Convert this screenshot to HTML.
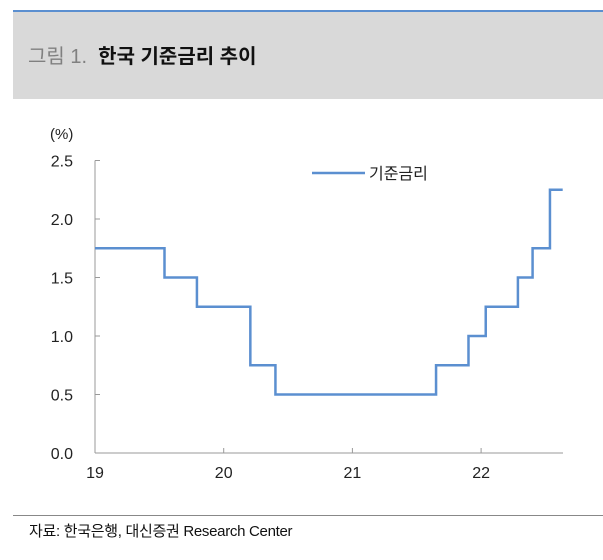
<!DOCTYPE html>
<html><head><meta charset="utf-8"><style>
body{margin:0;background:#fff;font-family:"Liberation Sans","Noto Sans CJK KR",sans-serif;}
#wrap{position:relative;width:603px;height:560px;overflow:hidden;}
</style></head><body>
<div id="wrap">
<div style="position:absolute;left:13px;top:10px;width:590px;height:2px;background:#5b8fd0"></div>
<div style="position:absolute;left:13px;top:12px;width:590px;height:87px;background:#d9d9d9"></div>
<div style="position:absolute;left:28px;top:40px;font-size:20px;white-space:nowrap;font-family:'Liberation Sans','Noto Sans CJK KR',sans-serif"><span style="color:#808080">그림 1.</span>&nbsp; <b style="color:#111">한국 기준금리 추이</b></div>
<svg id="chart" width="603" height="560" style="position:absolute;left:0;top:0"></svg>
<div style="position:absolute;left:13px;top:515px;width:590px;height:1px;background:#888"></div>
<div style="position:absolute;left:29px;top:520px;font-size:15px;color:#111;white-space:nowrap;letter-spacing:-0.3px">자료: 한국은행, 대신증권 Research Center</div>
</div>
<script>
const dates=[0,0.540,0.792,1.207,1.402,2.650,2.902,3.036,3.286,3.400,3.535,3.634];
const rates=[1.75,1.50,1.25,0.75,0.50,0.75,1.00,1.25,1.50,1.75,2.25,2.25];
const yTicks=[0,0.5,1.0,1.5,2.0,2.5];
const yTickLabels=["0.0","0.5","1.0","1.5","2.0","2.5"];
const xTicks=[0,1,2,3];
const xTickLabels=["19","20","21","22"];
const seriesName="기준금리";
const NS="http://www.w3.org/2000/svg";
const svg=document.getElementById('chart');
const X0=95,XW=128.7,Y0=453,YU=117,XEND=563;
const x=v=>X0+v*XW, y=v=>Y0-v*YU;
function mk(t,a){const e=document.createElementNS(NS,t);for(const k in a)e.setAttribute(k,a[k]);svg.appendChild(e);return e;}
let e=mk('line',{x1:X0,y1:y(2.5),x2:X0,y2:Y0,stroke:'#999','stroke-width':1});


e=mk('line',{x1:X0,y1:Y0,x2:XEND,y2:Y0,stroke:'#999','stroke-width':1});


yTicks.forEach((t,i)=>{
 const l=mk('line',{x1:X0,y1:y(t),x2:X0+5,y2:y(t),stroke:'#999'});
 
 
 const tx=mk('text',{x:73,y:y(t)+6,'text-anchor':'end','font-size':16,fill:'#222'});
 tx.textContent=yTickLabels[i];
 
 
});
xTicks.forEach((t,i)=>{
 if(i>0){const l=mk('line',{x1:x(t),y1:Y0,x2:x(t),y2:Y0-5,stroke:'#999'});
 
 }
 const tx=mk('text',{x:x(t),y:478,'text-anchor':'middle','font-size':16,fill:'#222'});
 tx.textContent=xTickLabels[i];
 
 
});
const u=mk('text',{x:50,y:139,'font-size':15,fill:'#222'});
u.textContent='(%)';


let d='';
for(let i=0;i<dates.length;i++){
 if(i===0)d+=`M${x(dates[0])},${y(rates[0])}`;
 else d+=` H${x(dates[i])} V${y(rates[i])}`;
}
const p=mk('path',{d:d,fill:'none',stroke:'#5b8fd0','stroke-width':2.5});


const ll=mk('line',{x1:312,y1:173,x2:365,y2:173,stroke:'#5b8fd0','stroke-width':2.5});


const lt=mk('text',{x:369,y:179,'font-size':16,fill:'#222'});
lt.textContent=seriesName;


</script>
</body></html>
